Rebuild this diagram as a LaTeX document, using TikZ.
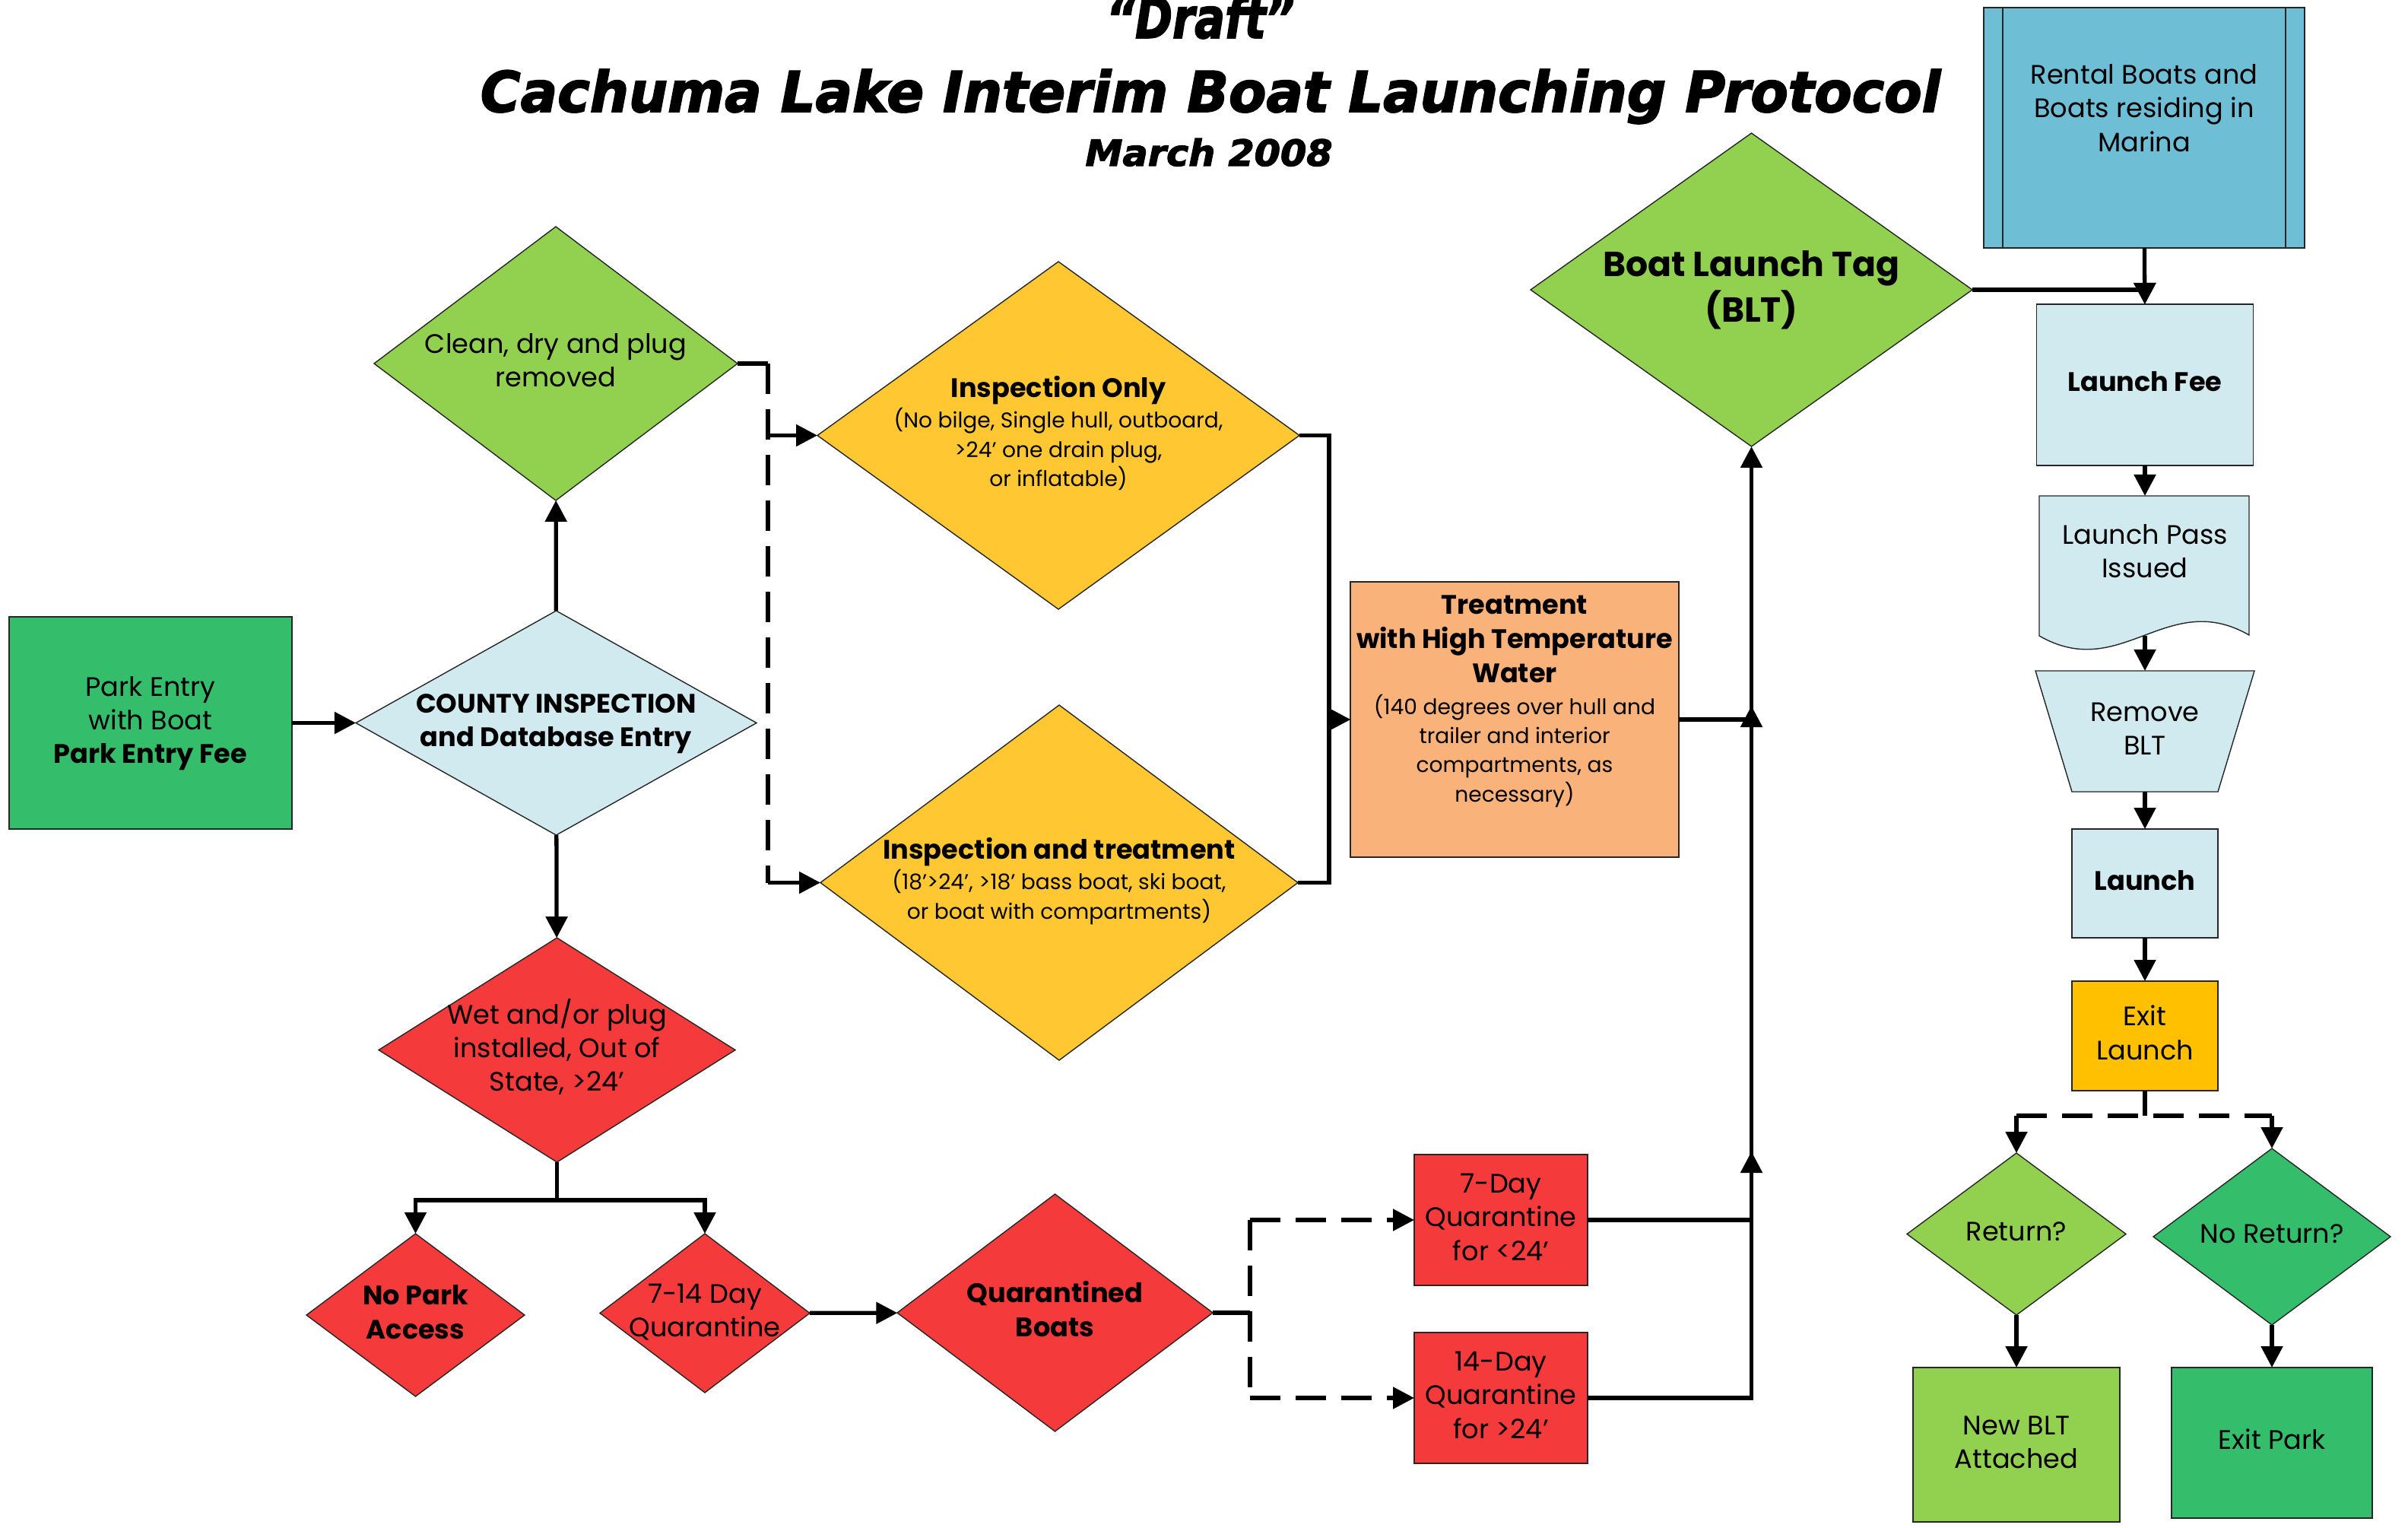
\documentclass[tikz,border=0pt]{standalone}
\usepackage{graphicx}
\usepackage{fontspec}
\setmainfont{Poppins}
\newfontfamily\titlefont{DejaVu Sans}[FakeBold=2.5]
\usetikzlibrary{shapes.geometric,arrows.meta}

\definecolor{parkgreen}{RGB}{52,190,108}
\definecolor{leafgreen}{RGB}{146,208,80}
\definecolor{paleblue}{RGB}{209,234,240}
\definecolor{alertred}{RGB}{244,58,58}
\definecolor{inspyellow}{RGB}{255,200,50}
\definecolor{heatorange}{RGB}{248,178,122}
\definecolor{marinablue}{RGB}{110,190,214}
\definecolor{exitorange}{RGB}{255,192,0}

% text of a shape, kept out of the shape's size
\newcommand{\shapetext}[2][0pt]{\smash{\makebox[0pt]{\raisebox{\dimexpr#1-0.25em\relax}{\begin{tabular}{@{}c@{}}#2\end{tabular}}}}}
\newcommand{\hd}[1]{{\fontsize{10}{12.6}\selectfont\bfseries #1}}

\begin{document}
\begin{tikzpicture}[
    font=\fontsize{10}{12.6}\selectfont,
    box/.style={rectangle, draw=black!85, line width=0.4pt, inner sep=0pt, outer sep=0pt},
    dia/.style={diamond, draw=black!85, line width=0.4pt, inner sep=0pt, outer sep=0pt},
    small/.style={font=\fontsize{8}{10.9}\selectfont},
    link/.style={line width=1.5pt},
    arr/.style={link, -{Triangle[length=0.28cm,width=0.28cm]}},
    dashlink/.style={link, dash pattern=on 0.4cm off 0.2cm}
]
\useasboundingbox (0,0) rectangle (31.67,20.08);

% Title
\node[anchor=base] (draft) at (15.79,19.58) {\resizebox{2.48cm}{0.56cm}{\titlefont\bfseries\itshape “Draft”}};
\node[anchor=base] (title) at (15.92,18.61) {\resizebox{19.2cm}{0.56cm}{\titlefont\bfseries\itshape Cachuma Lake Interim Boat Launching Protocol}};
\node[anchor=base] (date) at (15.90,17.90) {\resizebox{3.25cm}{0.36cm}{\titlefont\bfseries\itshape March 2008}};

% Entry and county inspection
\node[box, fill=parkgreen, minimum width=3.72cm, minimum height=2.79cm] (park) at (1.98,10.575)
    {\shapetext{Park Entry\\with Boat\\\textbf{Park Entry Fee}}};
\node[dia, fill=paleblue, minimum width=5.27cm, minimum height=2.95cm, font=\fontsize{10}{12.6}\selectfont\bfseries] (county) at (7.315,10.575)
    {\shapetext{COUNTY INSPECTION\\and Database Entry}};
\node[dia, fill=leafgreen, minimum width=4.78cm, minimum height=3.60cm] (clean) at (7.31,15.30)
    {\shapetext{Clean, dry  and plug\\removed}};
\node[dia, fill=alertred, minimum width=4.69cm, minimum height=2.95cm] (wet) at (7.325,6.275)
    {\shapetext{Wet and/or plug\\installed, Out of\\State, >24'}};

% Quarantine branch
\node[dia, fill=alertred, minimum width=2.87cm, minimum height=2.14cm, font=\fontsize{10}{12.6}\selectfont\bfseries] (nopark) at (5.465,2.79)
    {\shapetext{No Park\\Access}};
\node[dia, fill=alertred, minimum width=2.76cm, minimum height=2.09cm] (q714) at (9.27,2.815)
    {\shapetext{7-14 Day\\Quarantine}};
\node[dia, fill=alertred, minimum width=4.15cm, minimum height=3.12cm, font=\fontsize{10}{12.6}\selectfont\bfseries] (qboats) at (13.875,2.82)
    {\shapetext{Quarantined\\Boats}};
\node[box, fill=alertred, minimum width=2.28cm, minimum height=1.72cm] (day7) at (19.74,4.04)
    {\shapetext{7-Day\\Quarantine\\for <24'}};
\node[box, fill=alertred, minimum width=2.28cm, minimum height=1.72cm] (day14) at (19.74,1.70)
    {\shapetext{14-Day\\Quarantine\\for >24'}};

% Inspection and treatment
\node[dia, fill=inspyellow, minimum width=6.34cm, minimum height=4.57cm, small] (insponly) at (13.92,14.355)
    {\shapetext{\hd{Inspection Only}\\[0.6pt](No bilge, Single hull, outboard,\\>24' one drain plug,\\or inflatable)}};
\node[dia, fill=inspyellow, minimum width=6.28cm, minimum height=4.67cm, small] (insptreat) at (13.93,8.475)
    {\shapetext{\hd{Inspection and treatment}\\[0.6pt](18'>24', >18' bass boat, ski boat,\\or boat with compartments)}};
\node[box, fill=heatorange, minimum width=4.32cm, minimum height=3.62cm, small] (treat) at (19.92,10.62)
    {\shapetext[0.23cm]{\hd{Treatment}\\[1.7pt]\hd{with High Temperature}\\[1.7pt]\hd{Water}\\[1.1pt](140 degrees over hull and\\trailer and interior\\compartments, as\\necessary)}};

% Boat launch tag
\node[dia, fill=leafgreen, minimum width=5.81cm, minimum height=4.12cm, font=\fontsize{13}{16.7}\selectfont\bfseries] (blt) at (23.035,16.27)
    {\shapetext{Boat Launch Tag\\(BLT)}};

% Launch column
\node[box, fill=marinablue, minimum width=4.22cm, minimum height=3.16cm] (rental) at (28.20,18.40)
    {\shapetext[0.22cm]{Rental Boats and\\Boats residing in\\Marina}};
\draw[black!85, line width=0.4pt] ([xshift=0.25cm]rental.north west) -- ([xshift=0.25cm]rental.south west);
\draw[black!85, line width=0.4pt] ([xshift=-0.25cm]rental.north east) -- ([xshift=-0.25cm]rental.south east);
\node[box, fill=paleblue, minimum width=2.85cm, minimum height=2.12cm, font=\fontsize{10}{12.6}\selectfont\bfseries] (fee) at (28.21,15.02)
    {\shapetext{Launch Fee}};
\draw[fill=paleblue, draw=black!85, line width=0.4pt] (26.82,13.56) -- (29.58,13.56) -- (29.58,11.73)
    .. controls (28.5,12.35) and (27.9,11.1) .. (26.82,11.72) -- cycle;
\node[minimum width=2.76cm, minimum height=1.84cm, inner sep=0pt, outer sep=0pt] (pass) at (28.21,12.64)
    {\shapetext[0.15cm]{Launch Pass\\Issued}};
\draw[fill=paleblue, draw=black!85, line width=0.4pt] (26.77,11.26) -- (29.65,11.26) -- (29.17,9.67) -- (27.25,9.67) -- cycle;
\node[minimum width=2.88cm, minimum height=1.59cm, inner sep=0pt, outer sep=0pt] (remove) at (28.21,10.465)
    {\shapetext{Remove\\BLT}};
\node[box, fill=paleblue, minimum width=1.92cm, minimum height=1.43cm, font=\fontsize{10}{12.6}\selectfont\bfseries] (launch) at (28.21,8.465)
    {\shapetext{Launch}};
\node[box, fill=exitorange, minimum width=1.92cm, minimum height=1.44cm] (exitl) at (28.21,6.46)
    {\shapetext{Exit\\Launch}};
\node[dia, fill=leafgreen, minimum width=2.88cm, minimum height=2.13cm] (ret) at (26.52,3.855)
    {\shapetext{Return?}};
\node[dia, fill=parkgreen, minimum width=3.12cm, minimum height=2.32cm] (noret) at (29.88,3.82)
    {\shapetext{No Return?}};
\node[box, fill=leafgreen, minimum width=2.72cm, minimum height=2.03cm] (newblt) at (26.52,1.085)
    {\shapetext{New BLT\\Attached}};
\node[box, fill=parkgreen, minimum width=2.64cm, minimum height=1.98cm] (exitpark) at (29.88,1.11)
    {\shapetext{Exit Park}};

% Join points
\coordinate (cleanfork) at (10.10,15.30);
\coordinate (cleanA) at (10.10,14.355);
\coordinate (cleanB) at (10.10,8.475);
\coordinate (wetfork) at (7.325,4.30);
\coordinate (qfork) at (16.44,2.82);
\coordinate (qA) at (16.44,4.04);
\coordinate (qB) at (16.44,1.70);
\coordinate (treatjoin) at (17.48,10.62);
\coordinate (upA) at (23.035,10.80);
\coordinate (upB) at (23.035,4.94);
\coordinate (exitfork) at (28.21,5.41);
\coordinate (exitA) at (26.52,5.41);
\coordinate (exitB) at (29.88,5.41);

% Connectors
\draw[arr] (park) -- (county);
\draw[arr] (county) -- (clean);
\draw[arr] (county) -- (wet);
\draw[link] (clean.east) -- (cleanfork);
\draw[dashlink] (cleanfork) -- (cleanB);
\draw[arr] (cleanA) -- (insponly.west);
\draw[arr] (cleanB) -- (insptreat.west);
\draw[arr] (wet.south) -- (wetfork) -| (nopark.north);
\draw[arr] (wetfork) -| (q714.north);
\draw[arr] (q714) -- (qboats);
\draw[link] (qboats.east) -- (qfork);
\draw[dashlink] (qA) -- (qB);
\draw[dashlink] (qA) -- ([xshift=-0.3cm]day7.west);
\draw[dashlink] (qB) -- ([xshift=-0.3cm]day14.west);
\draw[arr] ([xshift=-0.3cm]day7.west) -- (day7.west);
\draw[arr] ([xshift=-0.3cm]day14.west) -- (day14.west);
\draw[arr] (insponly.east) -| (treatjoin) -- (treat.west);
\draw[arr] (insptreat.east) -| (treatjoin) -- (treat.west);
\draw[arr] (treat.east) -| (blt.south);
\draw[arr] (day7.east) -| (upA);
\draw[arr] (day14.east) -| (upB);
\draw[arr] (blt.east) -| (fee.north);
\draw[arr] (rental) -- (fee);
\draw[arr] (fee) -- (pass);
\draw[arr] (pass.south) -- (remove.north);
\draw[arr] (remove.south) -- (launch.north);
\draw[arr] (launch) -- (exitl);
\draw[link] (exitl.south) -- (exitfork);
\draw[dashlink] (exitA) -- (exitB);
\draw[arr] (exitA) -- (ret.north);
\draw[arr] (exitB) -- (noret.north);
\draw[arr] (ret) -- (newblt);
\draw[arr] (noret) -- (exitpark);
\end{tikzpicture}
\end{document}
